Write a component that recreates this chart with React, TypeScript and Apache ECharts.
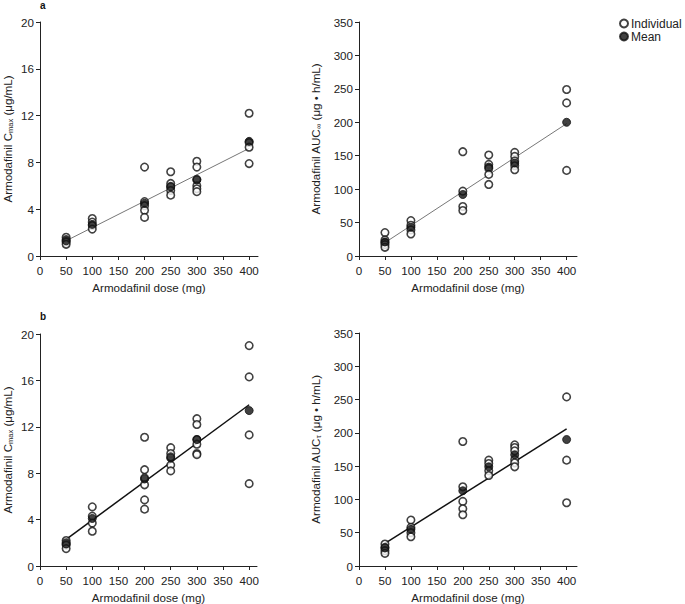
import React, { useEffect, useRef } from 'react';
import * as echarts from 'echarts';

const doseLevels = [50, 100, 200, 250, 300, 400];
const xTickValues = [0, 50, 100, 150, 200, 250, 300, 350, 400];

// Panel a, left: Cmax (µg/mL), individual values per dose level
const cmaxAIndividual = [
  [1.6, 1.4, 1.2, 1.0],
  [3.2, 2.9, 2.6, 2.3],
  [7.6, 4.65, 4.3, 3.9, 3.3],
  [7.2, 6.2, 5.95, 5.6, 5.2],
  [8.1, 7.6, 6.55, 6.0, 5.75, 5.5],
  [12.2, 9.7, 9.3, 7.9],
];
const cmaxAMean = [1.3, 2.7, 4.5, 5.9, 6.5, 9.8];
const cmaxAFit = [1.3, 9.2];

// Panel a, right: AUC∞
const aucAIndividual = [
  [35, 24, 20, 17, 13],
  [53, 46, 39, 33],
  [156, 97, 74, 68],
  [151, 137, 131, 122, 107],
  [155, 149, 142, 135, 129],
  [249, 229, 128],
];
const aucAMean = [21, 43, 92, 133, 139, 200];
const aucAFit = [20, 198];

// Panel b, left: Cmax
const cmaxBIndividual = [
  [2.2, 2.0, 1.8, 1.5],
  [5.1, 4.3, 3.7, 3.0],
  [11.1, 8.3, 7.6, 7.0, 5.7, 4.9],
  [10.2, 9.7, 9.4, 8.7, 8.2],
  [12.7, 12.2, 10.9, 10.5, 9.7, 9.6],
  [19.0, 16.3, 11.3, 7.1],
];
const cmaxBMean = [1.9, 4.1, 7.5, 9.3, 10.9, 13.4];
const cmaxBFit = [2.3, 13.9];

// Panel b, right: AUCτ
const aucBIndividual = [
  [33, 28, 23, 19],
  [69, 58, 50, 44],
  [187, 119, 97, 86, 77],
  [159, 154, 143, 136],
  [182, 178, 173, 160, 155, 149],
  [254, 159, 95],
];
const aucBMean = [27, 55, 113, 149, 167, 190];
const aucBFit = [34, 206];

const FONT = '"Liberation Sans", Arial, Helvetica, sans-serif';
const TXT = '#222';
const AX = '#222';
const FS = 11.6;

function pairs(ind: number[][]) {
  return ind.flatMap((vals, i) => vals.map((v) => [doseLevels[i], v]));
}
function meanPairs(m: number[]) {
  return m.map((v, i) => [doseLevels[i], v]);
}

const richStyles = {
  n: { fontSize: FS, color: TXT, fontFamily: FONT },
  s: { fontSize: 7.5, color: TXT, fontFamily: FONT, verticalAlign: 'bottom', padding: [6, 0, 0, 0] },
};

export default function App() {
  const ref = useRef<HTMLDivElement>(null);
  useEffect(() => {
    if (!ref.current) return;
    const chart = echarts.init(ref.current, undefined, { renderer: 'svg' });

    const grids = [
      { left: 40, top: 22, width: 218, height: 234 },
      { left: 359, top: 22, width: 218, height: 234 },
      { left: 40, top: 334, width: 217, height: 233 },
      { left: 359, top: 333, width: 218, height: 234 },
    ];
    const xMax = [417, 420, 415, 420];
    const xAxes = grids.map((_, i) => ({
      type: 'value',
      gridIndex: i,
      min: 0,
      max: xMax[i],
      interval: 50,
      name: 'Armodafinil dose (mg)',
      nameLocation: 'middle',
      nameGap: 25,
      nameTextStyle: { fontSize: FS, color: TXT, fontFamily: FONT },
      axisLine: { show: true, onZero: false, lineStyle: { color: AX, width: 1 } },
      axisTick: { show: true, length: 4, lineStyle: { color: AX }, customValues: xTickValues },
      axisLabel: { fontSize: FS, color: TXT, fontFamily: FONT, margin: 8, customValues: xTickValues },
      splitLine: { show: false },
    }));
    const yNames = [
      '{n|Armodafinil C}{s|max}{n| (μg/mL)}',
      '{n|Armodafinil AUC}{s|∞}{n| (μg • h/mL)}',
      '{n|Armodafinil C}{s|max}{n| (μg/mL)}',
      '{n|Armodafinil AUC}{s|τ}{n| (μg • h/mL)}',
    ];
    const yAxes = grids.map((_, i) => {
      const isC = i % 2 === 0;
      return {
        type: 'value',
        gridIndex: i,
        min: 0,
        max: isC ? 20 : 350,
        interval: isC ? 4 : 50,
        name: yNames[i],
        nameLocation: 'middle',
        nameGap: isC ? 26 : 37,
        nameTextStyle: { rich: richStyles },
        axisLine: { show: true, onZero: false, lineStyle: { color: AX, width: 1 } },
        axisTick: { show: true, length: 4, lineStyle: { color: AX } },
        axisLabel: { fontSize: FS, color: TXT, fontFamily: FONT, margin: 6 },
        splitLine: { show: false },
      };
    });

    const panels = [
      { ind: cmaxAIndividual, mean: cmaxAMean, fit: cmaxAFit, thin: true },
      { ind: aucAIndividual, mean: aucAMean, fit: aucAFit, thin: true },
      { ind: cmaxBIndividual, mean: cmaxBMean, fit: cmaxBFit, thin: false },
      { ind: aucBIndividual, mean: aucBMean, fit: aucBFit, thin: false },
    ];
    const series: any[] = [];
    panels.forEach((p, i) => {
      series.push({
        name: 'Fit',
        type: 'line',
        xAxisIndex: i,
        yAxisIndex: i,
        data: [
          [doseLevels[0], p.fit[0]],
          [doseLevels[doseLevels.length - 1], p.fit[1]],
        ],
        symbol: 'none',
        lineStyle: { color: p.thin ? '#777' : '#111', width: p.thin ? 1 : 1.5 },
        z: 1,
        silent: true,
      });
      series.push({
        name: 'Individual',
        type: 'scatter',
        xAxisIndex: i,
        yAxisIndex: i,
        data: pairs(p.ind),
        symbol: 'circle',
        symbolSize: 7.5,
        itemStyle: { color: '#fff', borderColor: '#111', borderWidth: 1.6 },
        z: 2,
      });
      series.push({
        name: 'Mean',
        type: 'scatter',
        xAxisIndex: i,
        yAxisIndex: i,
        data: meanPairs(p.mean),
        symbol: 'circle',
        symbolSize: 8,
        itemStyle: { color: '#111', borderColor: '#111', borderWidth: 1 },
        z: 3,
      });
    });

    chart.setOption({
      animation: false,
      backgroundColor: '#fff',
      textStyle: { fontFamily: FONT },
      grid: grids,
      xAxis: xAxes,
      yAxis: yAxes,
      legend: {
        data: ['Individual', 'Mean'],
        orient: 'vertical',
        left: 619,
        top: 17,
        padding: 0,
        itemWidth: 8,
        itemHeight: 8,
        itemGap: 0,
        icon: 'circle',
        textStyle: { fontSize: 12, lineHeight: 13, color: TXT, fontFamily: FONT, padding: [0, 0, 0, -2] },
      },
      graphic: [
        { type: 'text', left: 40, top: 0, style: { text: 'a', fontSize: 10, fontWeight: 'bold', fill: '#111', fontFamily: FONT } },
        { type: 'text', left: 40, top: 311, style: { text: 'b', fontSize: 10, fontWeight: 'bold', fill: '#111', fontFamily: FONT } },
      ],
      series,
    });
    return () => chart.dispose();
  }, []);
  return (
    <div
      ref={ref}
      style={{ position: 'absolute', left: 0, top: 0, width: 685, height: 604, background: '#fff' }}
    />
  );
}
